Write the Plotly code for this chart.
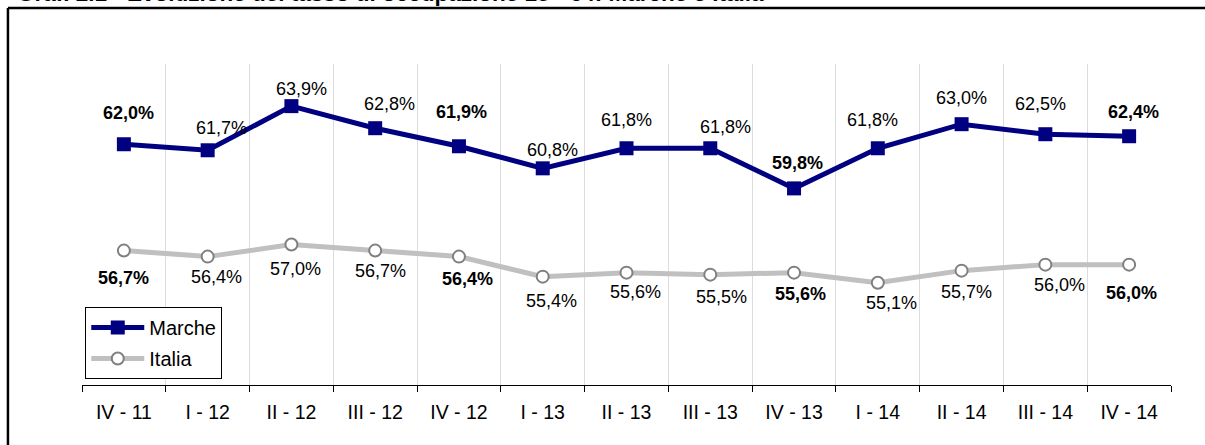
"""Tasso di occupazione 15-64: Marche e Italia."""

import plotly.graph_objects as go

trimestri = ["IV - 11", "I - 12", "II - 12", "III - 12", "IV - 12", "I - 13", "II - 13",
             "III - 13", "IV - 13", "I - 14", "II - 14", "III - 14", "IV - 14"]
marche = [62.0, 61.7, 63.9, 62.8, 61.9, 60.8, 61.8, 61.8, 59.8, 61.8, 63.0, 62.5, 62.4]
italia = [56.7, 56.4, 57.0, 56.7, 56.4, 55.4, 55.6, 55.5, 55.6, 55.1, 55.7, 56.0, 56.0]

# spostamenti delle etichette (pixel), come nel grafico originale
marche_dx = [5, 14, 10, 14, 3, 10, 0, 15, 3, -5, 0, -5, 4]
marche_dy = [31, 22, 17, 24, 34, 18, 28, 21, 25, 28, 26, 30, 24]
italia_dx = [0, 9, 4, 5, 9, 9, 9, 11, 6, 14, 5, 14, 2]
italia_dy = [-27, -20, -24, -20, -22, -24, -19, -22, -21, -20, -21, -20, -28]

FONT = "Liberation Sans, Arial, sans-serif"


def fmt(value, label):
    text = f"{value:.1f}%".replace(".", ",")
    return f"<b>{text}</b>" if label.startswith("IV") else text


fig = go.Figure()
fig.add_trace(go.Scatter(
    x=trimestri, y=marche, name="Marche", mode="lines+markers", legendgroup="m",
    line={"color": "#000080", "width": 5},
    marker={"symbol": "square", "size": 14, "color": "#000080"},
))
fig.add_trace(go.Scatter(
    x=trimestri, y=italia, name="Italia", mode="lines+markers", legendgroup="i",
    line={"color": "#c0c0c0", "width": 5},
    marker={"symbol": "circle", "size": 12, "color": "white",
            "line": {"color": "#808080", "width": 2}},
))

annotations = []
for serie, dxs, dys in ((marche, marche_dx, marche_dy), (italia, italia_dx, italia_dy)):
    for label, value, dx, dy in zip(trimestri, serie, dxs, dys):
        annotations.append({
            "x": label, "y": value, "text": fmt(value, label), "showarrow": False,
            "xshift": dx, "yshift": dy, "font": {"size": 18, "color": "black", "family": FONT},
        })

annotations.append({
    "xref": "paper", "yref": "paper", "x": -0.0615, "y": 1.2181,
    "xanchor": "left", "yanchor": "middle", "showarrow": False,
    "text": "<b>Graf. 2.1 - Evoluzione del tasso di occupazione 15 - 64: Marche e Italia</b>",
    "font": {"size": 22.5, "color": "black", "family": FONT},
})

frame = {"color": "black", "width": 2.5}

fig.update_layout(
    width=1205, height=445,
    margin={"l": 82, "r": 34, "t": 64, "b": 60},
    paper_bgcolor="white", plot_bgcolor="white",
    font={"family": FONT, "size": 18, "color": "black"},
    annotations=annotations,
    shapes=[
        {"type": "line", "xref": "paper", "yref": "paper",
         "x0": -0.068, "x1": 1.05, "y0": 1.1745, "y1": 1.1745, "line": frame},
        {"type": "line", "xref": "paper", "yref": "paper",
         "x0": -0.068, "x1": -0.068, "y0": -0.25, "y1": 1.1745, "line": frame},
    ],
    legend={
        "x": 0.003, "y": 0.243, "xanchor": "left", "yanchor": "top",
        "bgcolor": "white", "bordercolor": "black", "borderwidth": 1,
        "font": {"size": 20}, "itemwidth": 53, "tracegroupgap": 2,
    },
    xaxis={
        "type": "category", "range": [-0.5, 12.5], "tickson": "boundaries",
        "showgrid": True, "gridcolor": "#dcdcdc", "gridwidth": 1,
        "showline": True, "linecolor": "black", "linewidth": 1,
        "ticks": "outside", "ticklen": 6, "tickcolor": "black",
        "ticklabelstandoff": 10, "tickfont": {"size": 19.5},
    },
    yaxis={"range": [50, 66], "visible": False},
)

fig.write_html(
    "out.html",
    config={"displayModeBar": False},
    post_script=(
        "document.body.style.margin = '0';"
        "document.body.style.overflow = 'hidden';"
        "document.documentElement.style.overflow = 'hidden';"
    ),
)
